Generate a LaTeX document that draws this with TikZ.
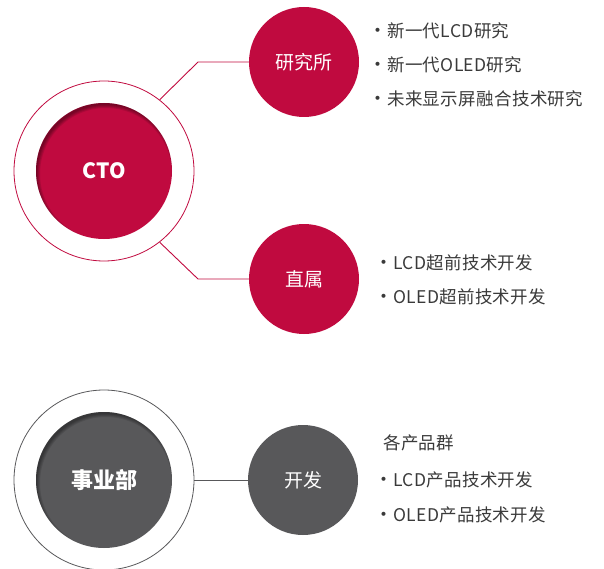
\documentclass[tikz,border=0pt]{standalone}
\usepackage{fontspec}
\newfontfamily\cjk{Noto Sans CJK SC}[LetterSpace=2]
\newfontfamily\cjkhub{Noto Sans CJK SC}
\definecolor{lgred}{HTML}{C00A3F}
\definecolor{lggray}{HTML}{58585A}
\definecolor{txtgray}{HTML}{3A3A3A}
\usetikzlibrary{positioning}
\tikzset{
   ring/.style={circle,draw=#1,line width=0.8pt,minimum size=180pt,inner sep=0pt},
   hub/.style={circle,fill=#1,text=white,minimum size=136pt,inner sep=0pt,font=\cjkhub\fontsize{21}{21}\selectfont\bfseries},
   unit/.style={circle,fill=#1,text=white,minimum size=110pt,inner sep=0pt,font=\cjkhub\fontsize{19}{19}\selectfont},
   link/.style={draw=#1,line width=0.9pt},
   item/.style={anchor=west,inner sep=0pt,text=txtgray,font=\cjk\fontsize{17.5}{17.5}\selectfont}
}
\newcommand{\dotitem}{{\cjkhub\fontsize{19}{19}\selectfont\textbullet}}

\begin{document}
\begin{tikzpicture}[x=1pt,y=-1pt]
   \useasboundingbox (0,0) rectangle (604,569);
   % CTO branch
   \node[ring=lgred] (ctoring) at (104,171) {};
   \node[hub=lgred] (cto) at (104,171) {CTO};
   \node[unit=lgred] (lab) at (304,62) {研究所};
   \node[unit=lgred] (dir) at (304,279) {直属};
   \coordinate (labbend) at (198,62);
   \coordinate (dirbend) at (198,279);
   \draw[link=lgred] (ctoring.52) -- (labbend) -- (lab.west);
   \draw[link=lgred] (ctoring.-52) -- (dirbend) -- (dir.west);
   % business branch
   \node[ring=lggray] (bizring) at (104,480) {};
   \node[hub=lggray,font=\cjkhub\fontsize{22}{22}\selectfont\bfseries] (biz) at (104,480) {事业部};
   \node[unit=lggray] (dev) at (303,480) {开发};
   \draw[link=lggray,line width=0.7pt] (bizring.east) -- (dev.west);
   % inner shadows
   \foreach \c in {cto,biz} {
      \begin{scope}
         \clip (\c.center) circle (68);
         \foreach \w in {2,4,6,8}
            \draw[black,opacity=0.11,line width=\w pt] ([shift={(2,3)}]\c.center) circle (70);
      \end{scope}
   }
   % lists
   \node[item] (lab1) at (368,31) {\dotitem 新一代LCD研究};
   \node[item] (lab2) at (368,65) {\dotitem 新一代OLED研究};
   \node[item] (lab3) at (368,99) {\dotitem 未来显示屏融合技术研究};
   \node[item] (dir1) at (374,263) {\dotitem LCD超前技术开发};
   \node[item] (dir2) at (374,297) {\dotitem OLED超前技术开发};
   \node[item] (devhead) at (383,443) {各产品群};
   \node[item] (dev1) at (374,480) {\dotitem LCD产品技术开发};
   \node[item] (dev2) at (374,515) {\dotitem OLED产品技术开发};
\end{tikzpicture}
\end{document}
